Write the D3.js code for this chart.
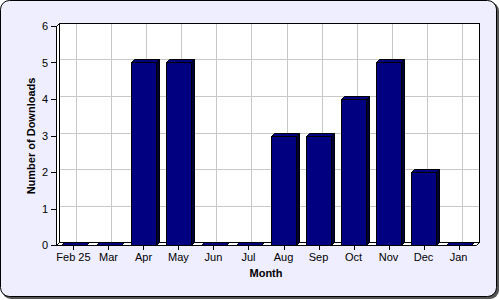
<!DOCTYPE html>
<html><head><meta charset="utf-8">
<script src="https://cdn.jsdelivr.net/npm/d3@7"></script>
<style>body{margin:0;background:#fff}svg{display:block}text{font-family:"Liberation Sans",Arial,sans-serif}</style>
</head><body><svg id="c" width="500" height="300"></svg>
<script>
const months = ["Feb 25","Mar","Apr","May","Jun","Jul","Aug","Sep","Oct","Nov","Dec","Jan"];
const downloads = [0,0,5,5,0,0,3,3,4,5,2,0];
const yTicks = [0,1,2,3,4,5,6];
const xTitle = "Month";
const yTitle = "Number of Downloads";

const svg = d3.select("#c");
const D = 3;
const x = d3.scaleBand().domain(months).range([56,476]).paddingInner(0.2857).paddingOuter(0.1428);
const y = d3.scaleLinear().domain([0,6]).range([245,26]);
const bw = x.bandwidth();
const x0 = x.range()[0], x1 = x.range()[1], yb = y(0), yt = y(6);

// frame
svg.append("rect").attr("x",2).attr("y",2).attr("width",497).attr("height",297).attr("rx",9).attr("fill","#555");
svg.append("rect").attr("x",0.5).attr("y",0.5).attr("width",496).attr("height",296).attr("rx",9)
  .attr("fill","#EEEEFF").attr("stroke","#000");

const g = svg.append("g");
// back wall
g.append("rect").attr("x",x0+D+0.5).attr("y",yt-D+0.5).attr("width",x1-x0).attr("height",yb-yt)
  .attr("fill","#fff").attr("stroke","none");
// grid
g.selectAll(".gv").data(months).join("line")
  .attr("x1",d=>Math.round(x(d)+bw/2+D)+0.5).attr("x2",d=>Math.round(x(d)+bw/2+D)+0.5)
  .attr("y1",yt-D).attr("y2",yb-D).attr("stroke","#C8C8C8");
g.selectAll(".gh").data(yTicks.slice(1,-1)).join("line")
  .attr("x1",x0+D).attr("x2",x1+D)
  .attr("y1",d=>Math.round(y(d)-D)+0.5).attr("y2",d=>Math.round(y(d)-D)+0.5).attr("stroke","#C8C8C8");
g.append("rect").attr("x",x0+D+0.5).attr("y",yt-D+0.5).attr("width",x1-x0).attr("height",yb-yt)
  .attr("fill","none").attr("stroke","#000");
// left wall
g.append("polygon").attr("points",[[x0+0.5,yt+0.5],[x0+D+0.5,yt-D+0.5],[x0+D+0.5,yb-D+0.5],[x0+0.5,yb+0.5]].join(" "))
  .attr("fill","#fff").attr("stroke","#000");
// floor
g.append("polygon").attr("points",[[x0+0.5,yb+0.5],[x1+0.5,yb+0.5],[x1+D+0.5,yb-D+0.5],[x0+D+0.5,yb-D+0.5]].join(" "))
  .attr("fill","#fff").attr("stroke","#000");

// bars
const bars = g.selectAll(".bar").data(months.map((m,i)=>({m,v:downloads[i]}))).join("g");
bars.each(function(d){
  const s = d3.select(this);
  const a = Math.round(x(d.m))+0.5, b = a+bw, t = Math.round(y(d.v))+0.5, bot = yb+0.5;
  if (d.v>0){
    s.append("polygon").attr("points",[[b,t],[b+D,t-D],[b+D,bot-D],[b,bot]].join(" "))
      .attr("fill","#000038").attr("stroke","#000");
    s.append("rect").attr("x",a).attr("y",t).attr("width",bw).attr("height",bot-t)
      .attr("fill","#000080").attr("stroke","#000");
  }
  s.append("polygon").attr("points",[[a,t],[a+D,t-D],[b+D,t-D],[b,t]].join(" "))
    .attr("fill","#000080").attr("stroke","#000");
});

// y axis
g.append("line").attr("x1",x0+0.5).attr("x2",x0+0.5).attr("y1",yt).attr("y2",yb+1).attr("stroke","#000");
g.selectAll(".yt").data(yTicks).join("line")
  .attr("x1",x0-5).attr("x2",x0).attr("y1",d=>Math.round(y(d))+0.5).attr("y2",d=>Math.round(y(d))+0.5).attr("stroke","#000");
g.selectAll(".yl").data(yTicks).join("text")
  .attr("x",x0-8).attr("y",d=>y(d)+4).attr("text-anchor","end").attr("font-size",11).text(d=>d);
// x axis
g.selectAll(".xt").data(months).join("line")
  .attr("x1",d=>Math.round(x(d)+bw/2)+0.5).attr("x2",d=>Math.round(x(d)+bw/2)+0.5)
  .attr("y1",yb).attr("y2",yb+5).attr("stroke","#000");
g.selectAll(".xl").data(months).join("text")
  .attr("x",d=>x(d)+bw/2).attr("y",yb+16).attr("text-anchor","middle").attr("font-size",11).text(d=>d);

svg.append("text").attr("x",(x0+x1)/2).attr("y",277).attr("text-anchor","middle")
  .attr("font-size",11).attr("font-weight","bold").text(xTitle);
svg.append("text").attr("transform","translate(35,136) rotate(-90)").attr("text-anchor","middle")
  .attr("font-size",11).attr("font-weight","bold").text(yTitle);
</script></body></html>
